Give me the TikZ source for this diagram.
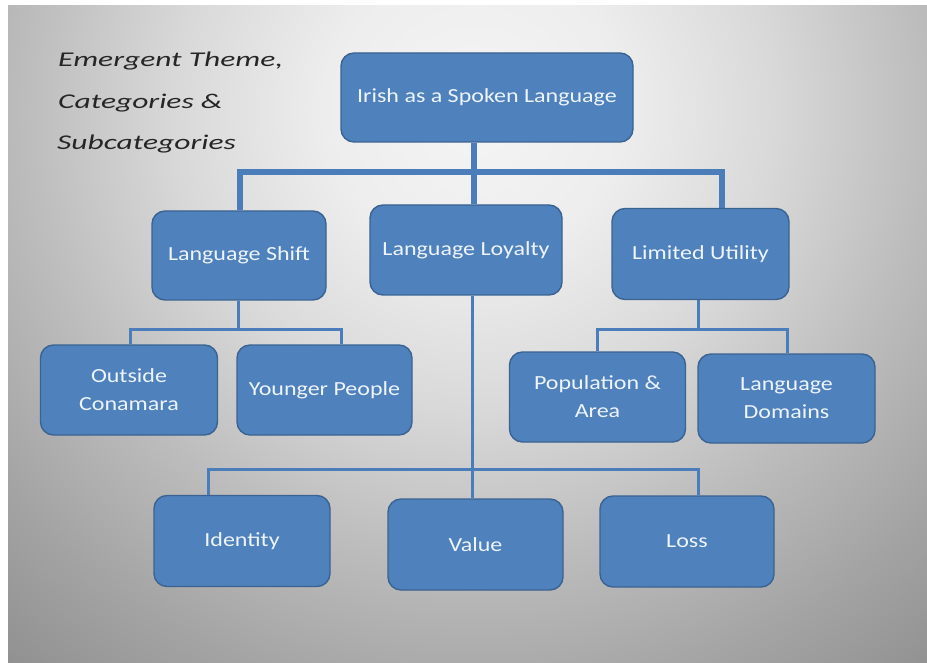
\documentclass[tikz,border=0pt]{standalone}
\usepackage{fontspec}
\newfontfamily\boxfont[FakeStretch=1.2]{Carlito}
\newfontfamily\titlefont[FakeStretch=1.5]{Carlito}
\definecolor{boxfill}{HTML}{4F81BD}
\definecolor{boxline}{HTML}{3A6392}
\definecolor{boxtext}{HTML}{EEF4FB}
\definecolor{linecol}{HTML}{4A7DBA}
\definecolor{titlecol}{HTML}{262626}
\pgfdeclareradialshading{bgshade}{\pgfpoint{0bp}{0bp}}{%
  color(0bp)=(white!96!black);
  color(4.6bp)=(white!93!black);
  color(9.1bp)=(white!85!black);
  color(13.7bp)=(white!74!black);
  color(18.3bp)=(white!64!black);
  color(23.5bp)=(white!54!black);
  color(25bp)=(white!52!black);
  color(50bp)=(white!52!black)}
\pgfdeclarelayer{bglayer}
\pgfdeclarelayer{linelayer}
\pgfsetlayers{bglayer,linelayer,main}
\tikzset{
  box/.style={draw=boxline, fill=boxfill, line width=1.4pt, rounded corners=13pt,
    text=boxtext, align=center, inner sep=0pt,
    font=\boxfont\fontsize{20}{28}\selectfont},
  busthick/.style={draw=linecol, line width=5.5pt},
  busthin/.style={draw=linecol, line width=3pt},
  titletext/.style={anchor=base west, inner sep=0pt, text=titlecol,
    font=\titlefont\itshape\fontsize{21}{26}\selectfont}
}
\begin{document}
\begin{tikzpicture}[x=1pt,y=-1pt]
\useasboundingbox (0,0) rectangle (927,663);
\begin{pgfonlayer}{bglayer}
  \fill[white] (0,0) rectangle (927,663);
  \begin{scope}
    \clip (8,6) rectangle (927,663);
    \shade[shading=bgshade] (475,110) ellipse (820 and 820);
  \end{scope}
\end{pgfonlayer}

% title
\node[titletext] (t1) at (58,67) {Emergent Theme,};
\node[titletext] (t2) at (58,109) {Categories \&};
\node[titletext] (t3) at (57,150) {Subcategories};

% boxes
\node[box, minimum width=292pt, minimum height=89pt] (root) at (487,97.5) {Irish as a Spoken Language};
\node[box, minimum width=174pt, minimum height=89pt] (LS) at (239,255.5) {Language Shift};
\node[box, minimum width=192pt, minimum height=90pt] (LL) at (466,250) {Language Loyalty};
\node[box, minimum width=177pt, minimum height=91pt] (LU) at (700.5,254) {Limited Utility};
\node[box, minimum width=177pt, minimum height=90pt] (OC) at (129,390) {Outside\\Conamara};
\node[box, minimum width=175pt, minimum height=90pt] (YP) at (324.5,390) {Younger People};
\node[box, minimum width=176pt, minimum height=90pt] (PA) at (597.5,397) {Population \&\\Area};
\node[box, minimum width=177pt, minimum height=89pt] (LD) at (786.5,398.5) {Language\\Domains};
\node[box, minimum width=176pt, minimum height=91pt] (ID) at (242,541) {Identity};
\node[box, minimum width=175pt, minimum height=91pt] (VA) at (475.5,544.5) {Value};
\node[box, minimum width=174pt, minimum height=91pt] (LO) at (687,541.5) {Loss};

% junction coordinates
\coordinate (b1L) at (240,172);
\coordinate (b1M) at (474,172);
\coordinate (b1R) at (722,172);
\coordinate (b2L) at (130,329);
\coordinate (b2M) at (238,329);
\coordinate (b2R) at (341,329);
\coordinate (b3L) at (597,329);
\coordinate (b3M) at (698,329);
\coordinate (b3R) at (787,329);
\coordinate (b4L) at (208,469);
\coordinate (b4M) at (472,469);
\coordinate (b4R) at (698,469);

\begin{pgfonlayer}{linelayer}
  \draw[busthick] (root.south -| b1M) -- (LL.north -| b1M);
  \draw[busthick] (LS.north -| b1L) -- (b1L) -- (b1R) -- (LU.north -| b1R);
  \draw[busthin] (LS.south -| b2M) -- (b2M);
  \draw[busthin] (OC.north -| b2L) -- (b2L) -- (b2R) -- (YP.north -| b2R);
  \draw[busthin] (LU.south -| b3M) -- (b3M);
  \draw[busthin] (PA.north -| b3L) -- (b3L) -- (b3R) -- (LD.north -| b3R);
  \draw[busthin] (LL.south -| b4M) -- (VA.north -| b4M);
  \draw[busthin] (ID.north -| b4L) -- (b4L) -- (b4R) -- (LO.north -| b4R);
\end{pgfonlayer}
\end{tikzpicture}
\end{document}
